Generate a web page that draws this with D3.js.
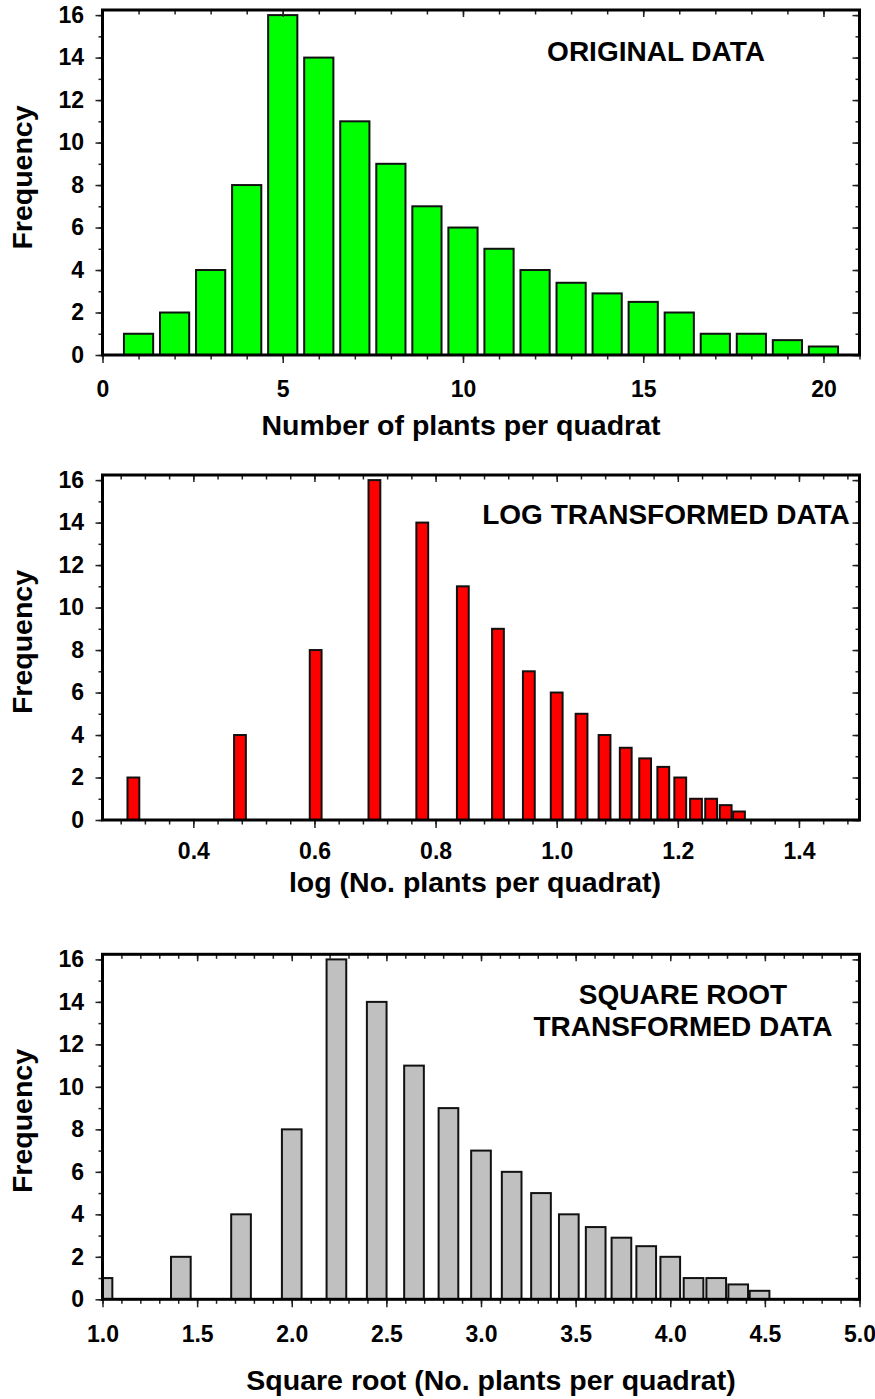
<!DOCTYPE html>
<html>
<head>
<meta charset="utf-8">
<script src="https://cdn.jsdelivr.net/npm/d3@7"></script>
<style>
  html, body { margin: 0; padding: 0; background: #fff; }
  svg { display: block; }
  text { font-family: "Liberation Sans", Arial, sans-serif; font-weight: bold; fill: #000; }
</style>
</head>
<body>
<svg id="chart" width="875" height="1399"></svg>
<script>
// Number of plants per quadrat (histogram classes) and their frequencies
const plantCounts = [1, 2, 3, 4, 5, 6, 7, 8, 9, 10, 11, 12, 13, 14, 15, 16, 17, 18, 19, 20];
const originalFreq = [1, 2, 4, 8, 16, 14, 11, 9, 7, 6, 5, 4, 3.4, 2.9, 2.5, 2, 1, 1, 0.7, 0.4];

// log10 of the counts 2..20 (log 1 = 0 lies off the axis)
const logBins = [0.301, 0.477, 0.602, 0.699, 0.778, 0.845, 0.903, 0.954, 1.000, 1.041,
                 1.079, 1.114, 1.146, 1.176, 1.204, 1.230, 1.255, 1.279, 1.301];
const logFreq = [2, 4, 8, 16, 14, 11, 9, 7, 6, 5, 4, 3.4, 2.9, 2.5, 2, 1, 1, 0.7, 0.4];

// square roots of the counts 1..20
const sqrtBins = [1.000, 1.414, 1.732, 2.000, 2.236, 2.449, 2.646, 2.828, 3.000, 3.162,
                  3.317, 3.464, 3.606, 3.742, 3.873, 4.000, 4.123, 4.243, 4.359, 4.472];
const sqrtFreq = [1, 2, 4, 8, 16, 14, 11, 9, 7, 6, 5, 4, 3.4, 2.9, 2.5, 2, 1, 1, 0.7, 0.4];

// axis ticks
const yTicks = [0, 2, 4, 6, 8, 10, 12, 14, 16];
const yMinorTicks = d3.range(0, 17, 1);
const originalTicks = [0, 5, 10, 15, 20];
const originalMinor = d3.range(0, 22, 1);
const logTicks = [0.4, 0.6, 0.8, 1.0, 1.2, 1.4];
const logMinor = d3.range(0.28, 1.5, 0.04);
const sqrtTicks = [1.0, 1.5, 2.0, 2.5, 3.0, 3.5, 4.0, 4.5, 5.0];
const sqrtMinor = d3.range(1.0, 5.01, 0.1);

const svg = d3.select("#chart");
const left = 102.5, right = 859.5;
const tickFont = 23;

const panels = [
  {
    id: "orig", bins: plantCounts, freq: originalFreq, fill: "#00ff00",
    xDomain: [0, 21], barW: 0.81, major: originalTicks, minor: originalMinor, fmt: d3.format("d"),
    top: 10, bottom: 355, labelPad: 18,
    xTitle: "Number of plants per quadrat", xTitleX: 461, xTitleY: 435,
    yTitleY: 177.5,
    title: ["ORIGINAL DATA"], titleX: 656, titleY: [61]
  },
  {
    id: "log", bins: logBins, freq: logFreq, fill: "#ff0000",
    xDomain: [0.25, 1.5], barW: 0.0195, major: logTicks, minor: logMinor, fmt: d3.format(".1f"),
    top: 475, bottom: 820, labelPad: 15,
    xTitle: "log (No. plants per quadrat)", xTitleX: 475, xTitleY: 892,
    yTitleY: 642,
    title: ["LOG TRANSFORMED DATA"], titleX: 666, titleY: [524]
  },
  {
    id: "sqrt", bins: sqrtBins, freq: sqrtFreq, fill: "#c0c0c0",
    xDomain: [1, 5], barW: 0.104, major: sqrtTicks, minor: sqrtMinor, fmt: d3.format(".1f"),
    top: 954.3, bottom: 1299.3, labelPad: 18,
    xTitle: "Square root (No. plants per quadrat)", xTitleX: 491, xTitleY: 1390,
    yTitleY: 1121,
    title: ["SQUARE ROOT", "TRANSFORMED DATA"], titleX: 683, titleY: [1004, 1036]
  }
];

panels.forEach(p => {
  const x = d3.scaleLinear().domain(p.xDomain).range([left, right]);
  const y = d3.scaleLinear().domain([0, 16.24]).range([p.bottom, p.top]);
  const g = svg.append("g").attr("class", "panel-" + p.id);

  // clip bars to the plotting frame
  const clipId = "clip-" + p.id;
  svg.append("clipPath").attr("id", clipId)
    .append("rect")
    .attr("x", left).attr("y", p.top)
    .attr("width", right - left).attr("height", p.bottom - p.top);

  const data = p.bins.map((b, i) => ({ b, v: p.freq[i] }));

  g.append("g").attr("clip-path", `url(#${clipId})`)
    .selectAll("rect")
    .data(data)
    .join("rect")
    .attr("x", d => x(d.b - p.barW / 2))
    .attr("width", d => x(d.b + p.barW / 2) - x(d.b - p.barW / 2))
    .attr("y", d => y(d.v))
    .attr("height", d => y(0) - y(d.v))
    .attr("fill", p.fill)
    .attr("stroke", "#111")
    .attr("stroke-width", 2);

  const styleTicks = sel => {
    sel.select(".domain").remove();
    sel.selectAll(".tick line").attr("stroke", "#222").attr("stroke-width", 1.5);
  };

  // bottom axis: minor then major with labels
  g.append("g").attr("transform", `translate(0,${p.bottom})`)
    .call(d3.axisBottom(x).tickValues(p.minor).tickSize(4.5).tickFormat(""))
    .call(styleTicks);
  g.append("g").attr("transform", `translate(0,${p.bottom})`)
    .call(d3.axisBottom(x).tickValues(p.major).tickSize(8).tickPadding(p.labelPad).tickFormat(p.fmt))
    .call(styleTicks)
    .call(s => s.selectAll("text").attr("font-size", tickFont).attr("fill", "#000"));

  // top axis: inward ticks
  g.append("g").attr("transform", `translate(0,${p.top})`)
    .call(d3.axisTop(x).tickValues(p.minor).tickSize(-4.5).tickFormat(""))
    .call(styleTicks);
  g.append("g").attr("transform", `translate(0,${p.top})`)
    .call(d3.axisTop(x).tickValues(p.major).tickSize(-7).tickFormat(""))
    .call(styleTicks);

  // left axis
  g.append("g").attr("transform", `translate(${left},0)`)
    .call(d3.axisLeft(y).tickValues(yMinorTicks).tickSize(4).tickFormat(""))
    .call(styleTicks);
  g.append("g").attr("transform", `translate(${left},0)`)
    .call(d3.axisLeft(y).tickValues(yTicks).tickSize(7).tickPadding(11.5).tickFormat(d3.format("d")))
    .call(styleTicks)
    .call(s => s.selectAll("text").attr("font-size", tickFont).attr("fill", "#000"));

  // right axis: inward ticks
  g.append("g").attr("transform", `translate(${right},0)`)
    .call(d3.axisRight(y).tickValues(yMinorTicks).tickSize(-4).tickFormat(""))
    .call(styleTicks);
  g.append("g").attr("transform", `translate(${right},0)`)
    .call(d3.axisRight(y).tickValues(yTicks).tickSize(-7).tickFormat(""))
    .call(styleTicks);

  // frame
  g.append("rect")
    .attr("x", left).attr("y", p.top)
    .attr("width", right - left).attr("height", p.bottom - p.top)
    .attr("fill", "none").attr("stroke", "#000").attr("stroke-width", 3);

  // axis titles
  g.append("text")
    .attr("x", p.xTitleX).attr("y", p.xTitleY)
    .attr("text-anchor", "middle").attr("font-size", 28.5)
    .text(p.xTitle);
  g.append("text")
    .attr("transform", `translate(32,${p.yTitleY}) rotate(-90)`)
    .attr("text-anchor", "middle").attr("font-size", 28.5)
    .text("Frequency");

  // panel title
  p.title.forEach((t, i) => {
    g.append("text")
      .attr("x", p.titleX).attr("y", p.titleY[i])
      .attr("text-anchor", "middle").attr("font-size", 28)
      .text(t);
  });
});
</script>
</body>
</html>
